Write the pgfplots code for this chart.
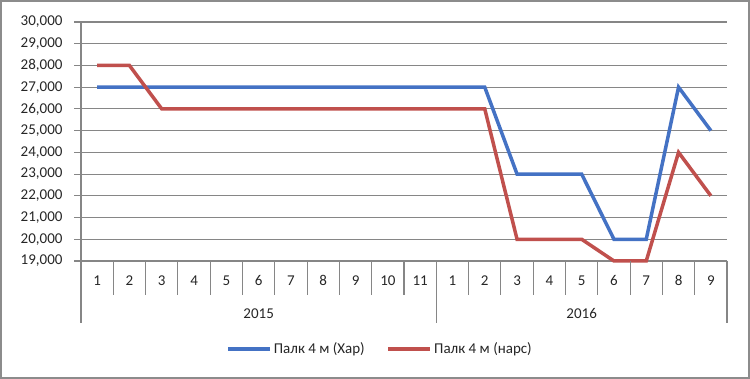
\documentclass[border=0pt]{standalone}
\usepackage{pgfplots}
\pgfplotsset{compat=1.18}
\usepackage{fontspec}
\setmainfont{Carlito}
\definecolor{cblue}{RGB}{68,114,196}
\definecolor{cred}{RGB}{192,80,77}
\definecolor{cgrid}{RGB}{134,134,134}
\begin{document}
\begin{tikzpicture}[x=1pt,y=1pt]
\path[use as bounding box] (0,0) rectangle (750,379);
\draw[line width=2pt, color=black!45] (1,1) rectangle (749,378);
\begin{axis}[
  at={(81pt,118pt)}, anchor=south west,
  scale only axis, width=646pt, height=239pt,
  xmin=-0.5, xmax=19.5, ymin=19000, ymax=30000,
  ytick distance=1000,
  scaled y ticks=false,
  ymajorgrids,
  grid style={cgrid, line width=1.1pt},
  separate axis lines,
  axis x line*=bottom, axis y line*=left,
  x axis line style={-, cgrid, line width=1.1pt},
  y axis line style={-, cgrid, line width=1.1pt},
  tick align=outside, major tick length=7pt,
  y tick style={cgrid, line width=1.1pt},
  x tick style={draw=none},
  xtick={0,...,19},
  xticklabels={1,2,3,4,5,6,7,8,9,10,11,1,2,3,4,5,6,7,8,9},
  tick label style={font=\fontsize{15}{17}\selectfont, text=black!85},
  yticklabel style={xshift=-8pt},
  xticklabel style={anchor=base, yshift=-18pt},
  /pgf/number format/.cd, 1000 sep={,}, assume math mode=true,
  /pgfplots/.cd,
  clip=false,
  legend columns=2,
  legend style={at={(0.463,-0.368)}, anchor=center, draw=none,
    font=\fontsize{15}{17}\selectfont, text=black!85,
    /tikz/every even column/.append style={column sep=20pt}},
  legend image code/.code={\draw[#1, line width=3.5pt] (0pt,0pt) -- (42pt,0pt);},
]
\addplot[cblue, line width=3.5pt] coordinates {
(0,27000)(1,27000)(2,27000)(3,27000)(4,27000)(5,27000)(6,27000)(7,27000)(8,27000)(9,27000)
(10,27000)(11,27000)(12,27000)(13,23000)(14,23000)(15,23000)(16,20000)(17,20000)(18,27000)(19,25000)};
\addlegendentry{Палк 4 м (Хар)}
\addplot[cred, line width=3.5pt] coordinates {
(0,28000)(1,28000)(2,26000)(3,26000)(4,26000)(5,26000)(6,26000)(7,26000)(8,26000)(9,26000)
(10,26000)(11,26000)(12,26000)(13,20000)(14,20000)(15,20000)(16,19000)(17,19000)(18,24000)(19,22000)};
\addlegendentry{Палк 4 м (нарс)}
\pgfplotsinvokeforeach{0.5,1.5,...,9.5,11.5,12.5,...,18.5}{
  \draw[cgrid, line width=1.1pt] (axis cs:#1,19000) -- ++(0pt,-34pt);
}
\pgfplotsinvokeforeach{-0.5,10.5,19.5}{
  \draw[cgrid, line width=1.1pt] (axis cs:#1,19000) -- ++(0pt,-62pt);
}
\node[anchor=base, font=\fontsize{15}{17}\selectfont, text=black!85] at ([yshift=-58pt]axis cs:5,19000) {2015};
\node[anchor=base, font=\fontsize{15}{17}\selectfont, text=black!85] at ([yshift=-58pt]axis cs:15,19000) {2016};
\end{axis}
\end{tikzpicture}
\end{document}
